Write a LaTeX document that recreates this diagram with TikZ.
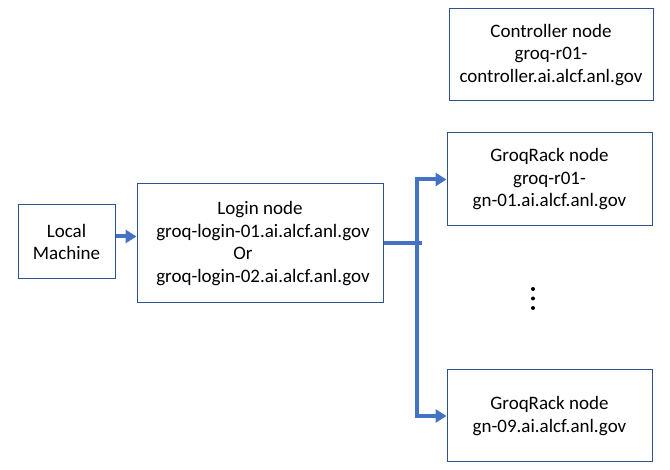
\documentclass[tikz,border=0pt]{standalone}
\usepackage{fontspec}
\setmainfont{Carlito}
\usetikzlibrary{arrows.meta}
\definecolor{boxblue}{HTML}{2F528F}
\definecolor{arrblue}{HTML}{4472C4}
\begin{document}
\begin{tikzpicture}[x=1pt,y=-1pt,
  box/.style={draw=boxblue,line width=1pt,inner sep=0pt,align=center,
    font=\fontsize{19}{22.5}\selectfont,text=black},
  arr/.style={draw=arrblue,line width=4pt,-{Triangle[length=11pt,width=13pt]}},
  ln/.style={draw=arrblue,line width=4pt}]
\useasboundingbox[fill=white] (0,0) rectangle (670,470);
\node[box,minimum width=97pt,minimum height=74pt] (local) at (66.5,242) {Local\\Machine};
\node[box,minimum width=246pt,minimum height=119pt] (login) at (260,243.5) {Login node\\\rule{6pt}{0pt}groq-login-01.ai.alcf.anl.gov\\Or\rule{34pt}{0pt}\\\rule{6pt}{0pt}groq-login-02.ai.alcf.anl.gov};
\node[box,minimum width=204pt,minimum height=92pt] (ctrl) at (551,55) {Controller node\\groq-r01-\\controller.ai.alcf.anl.gov};
\node[box,minimum width=205pt,minimum height=93pt] (gr1) at (549.5,179.5) {GroqRack node\\groq-r01-\\gn-01.ai.alcf.anl.gov};
\node[box,minimum width=205pt,minimum height=92pt] (gr9) at (549.5,416) {GroqRack node\\gn-09.ai.alcf.anl.gov};
\coordinate (junc) at (417,243);
\draw[arr] ([yshift=5.5pt]local.east) -- ([yshift=5.5pt]local.east -| login.west);
\draw[ln] (login.east |- junc) -- ++(38,0);
\draw[arr] (junc) |- (gr1.west);
\draw[arr] (junc) |- (gr9.west);
\node[circle,fill=black,inner sep=0pt,minimum size=4pt] (d1) at (533,289) {};
\node[circle,fill=black,inner sep=0pt,minimum size=4pt] (d2) at (533,298.5) {};
\node[circle,fill=black,inner sep=0pt,minimum size=4pt] (d3) at (533,308) {};
\end{tikzpicture}
\end{document}
